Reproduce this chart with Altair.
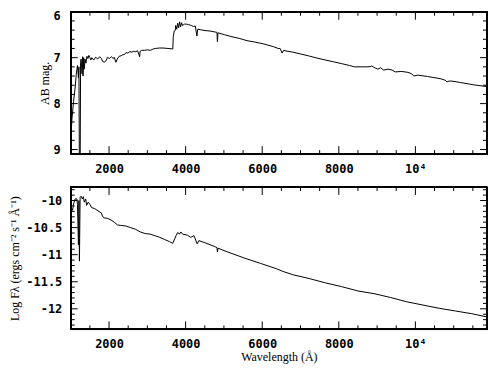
import altair as alt
import pandas as pd

# ---- data ----
wl_ab = [1000, 1003, 1033, 1074, 1117, 1143, 1176, 1201, 1214, 1227, 1245, 1257, 1270, 1296,
         1308, 1321, 1339, 1354, 1372, 1397, 1423, 1448, 1474, 1499, 1525, 1550, 1601, 1652,
         1703, 1754, 1805, 1831, 1882, 1933, 1958, 2009, 2060, 2111, 2136, 2180, 2213, 2264,
         2315, 2366, 2391, 2442, 2493, 2544, 2595, 2646, 2697, 2748, 2799, 2812, 2850, 2926,
         3003, 3079, 3156, 3207, 3308, 3410, 3538, 3665, 3678, 3703, 3729, 3741, 3767, 3793,
         3818, 3844, 3869, 3895, 3920, 3971, 4022, 4073, 4150, 4201, 4252, 4295, 4315, 4379,
         4506, 4633, 4761, 4819, 4830, 4845, 5016, 5186, 5398, 5602, 5805, 6035, 6290, 6417,
         6468, 6519, 6557, 6595, 6799, 7003, 7207, 7436, 7640, 7862, 8073, 8277, 8405, 8608,
         8761, 8838, 8863, 8914, 8965, 9016, 9093, 9169, 9289, 9390, 9474, 9645, 9806, 9900,
         9959, 10061, 10316, 10665, 10774, 10825, 10876, 10953, 11174, 11513, 11870]
ab_mag = [9.05, 8.75, 8.32, 7.95, 7.64, 7.37, 7.17, 7.44, 7.20, 9.60, 9.60, 7.10, 7.03, 7.35,
          6.98, 7.40, 7.00, 7.25, 7.03, 7.12, 6.97, 7.02, 6.95, 7.00, 7.05, 7.00, 7.05, 6.99,
          7.03, 6.98, 7.02, 7.08, 7.10, 7.05, 6.99, 7.02, 6.98, 7.02, 6.99, 7.10, 7.03, 6.97,
          6.96, 6.93, 6.94, 6.89, 6.90, 6.87, 6.88, 6.86, 6.87, 6.85, 6.98, 6.86, 6.84, 6.84,
          6.83, 6.84, 6.81, 6.80, 6.79, 6.79, 6.80, 6.81, 6.54, 6.42, 6.41, 6.30, 6.38, 6.25,
          6.35, 6.22, 6.33, 6.24, 6.30, 6.27, 6.27, 6.28, 6.30, 6.32, 6.31, 6.53, 6.38, 6.39,
          6.41, 6.42, 6.44, 6.45, 6.65, 6.46, 6.50, 6.54, 6.58, 6.63, 6.66, 6.70, 6.76, 6.80,
          6.80, 6.90, 6.84, 6.85, 6.88, 6.92, 6.96, 7.01, 7.05, 7.09, 7.13, 7.17, 7.20, 7.20,
          7.20, 7.19, 7.18, 7.21, 7.23, 7.25, 7.22, 7.27, 7.25, 7.27, 7.31, 7.30, 7.32, 7.35,
          7.40, 7.38, 7.41, 7.46, 7.49, 7.53, 7.51, 7.51, 7.54, 7.59, 7.63]

wl_fx = [1000, 1003, 1028, 1048, 1074, 1117, 1161, 1176, 1201, 1214, 1227, 1245, 1270, 1303,
         1329, 1354, 1390, 1415, 1456, 1499, 1543, 1627, 1711, 1798, 1838, 1882, 1966, 2052,
         2136, 2220, 2307, 2435, 2562, 2689, 2817, 2944, 3072, 3199, 3326, 3454, 3581, 3665,
         3749, 3793, 3836, 3877, 3920, 4047, 4132, 4218, 4302, 4346, 4506, 4761, 4819, 4830,
         4845, 5100, 5525, 5951, 6374, 6544, 6799, 7225, 7648, 8073, 8499, 8922, 9347, 9773,
         10196, 10621, 11047, 11470, 11870]
log_fx = [-10.42, -10.30, -10.15, -10.18, -10.06, -9.97, -9.97, -10.07, -10.82, -10.00, -11.12,
          -9.94, -9.92, -9.97, -9.93, -10.03, -9.97, -10.09, -10.03, -10.07, -10.13, -10.15,
          -10.19, -10.23, -10.30, -10.32, -10.33, -10.36, -10.40, -10.45, -10.46, -10.47,
          -10.50, -10.53, -10.58, -10.61, -10.62, -10.65, -10.68, -10.72, -10.76, -10.79,
          -10.65, -10.59, -10.62, -10.58, -10.62, -10.64, -10.68, -10.65, -10.80, -10.74,
          -10.78, -10.85, -10.87, -10.95, -10.88, -10.95, -11.06, -11.16, -11.26, -11.31,
          -11.37, -11.44, -11.52, -11.59, -11.67, -11.72, -11.79, -11.87, -11.93, -11.99,
          -12.04, -12.09, -12.15]

x_major = [2000, 4000, 6000, 8000, 10000]
x_minor = [1500, 2500, 3000, 3500, 4500, 5000, 5500, 6500, 7000, 7500, 8500, 9000, 9500,
           10500, 11000, 11500]
ab_major = [6, 7, 8, 9]
ab_labels = ["6", "7", "8", "9"]
ab_minor = [6.2, 6.4, 6.6, 6.8, 7.2, 7.4, 7.6, 7.8, 8.2, 8.4, 8.6, 8.8, 9.0]
fx_major = [-10, -10.5, -11, -11.5, -12]
fx_minor = [-9.8, -9.9, -10.1, -10.2, -10.3, -10.4, -10.6, -10.7, -10.8, -10.9, -11.1, -11.2,
            -11.3, -11.4, -11.6, -11.7, -11.8, -11.9, -12.1, -12.2, -12.3]

X_DOMAIN = [1000, 11870]
AB_DOMAIN = [6, 9.1]
FX_DOMAIN = [-12.38, -9.75]

W, H = 418, 143
TICK_FONT = "DejaVu Sans Mono"
TITLE_FONT = "Liberation Serif"

xscale = alt.Scale(domain=X_DOMAIN, nice=False, zero=False)
abscale = alt.Scale(domain=AB_DOMAIN, reverse=True, nice=False, zero=False)
fxscale = alt.Scale(domain=FX_DOMAIN, nice=False, zero=False)

x_label_expr = "datum.value == 10000 ? '10\u2074' : format(datum.value, 'd')"


def x_axis(title):
    kw = dict(values=x_major, labelExpr=x_label_expr, ticks=False, domain=False, grid=False,
              labelFont=TICK_FONT, labelFontSize=12, labelFontWeight="bold",
              labelColor="black", labelPadding=9)
    if title:
        kw.update(title=title, titleFont=TITLE_FONT, titleFontSize=12,
                  titleFontWeight="normal", titleColor="black", titlePadding=2)
    else:
        kw.update(title=None)
    return alt.Axis(**kw)


top_yaxis = alt.Axis(values=ab_major, labels=False, ticks=False, domain=False, grid=False,
                     title="AB mag.", titleFont=TITLE_FONT, titleFontSize=12,
                     titleFontWeight="normal", titleColor="black", titlePadding=19)

bot_yaxis = alt.Axis(values=fx_major,
                     labelExpr="datum.value < 0 ? '-' + format(-datum.value, '~g') : format(datum.value, '~g')",
                     ticks=False, domain=False, grid=False,
                     labelFont=TICK_FONT, labelFontSize=12, labelFontWeight="bold",
                     labelColor="black", labelPadding=9,
                     title="Log F\u03bb (ergs cm\u207b\u00b2 s\u207b\u00b9 \u00c5\u207b\u00b9)",
                     titleFont=TITLE_FONT, titleFontSize=12, titleFontWeight="normal",
                     titleColor="black", titlePadding=4)


def panel(df, yfield, yscale, xaxis, yaxis, y_major, y_minor, extra=()):
    line = alt.Chart(df).mark_line(color="black", strokeWidth=1, clip=True).encode(
        x=alt.X("wl:Q", scale=xscale, axis=xaxis),
        y=alt.Y(f"{yfield}:Q", scale=yscale, axis=yaxis),
    )
    frame = alt.Chart(df).mark_rect(fillOpacity=0, stroke="black", strokeWidth=1).encode(
        x=alt.value(0), x2=alt.value(W), y=alt.value(0), y2=alt.value(H)
    )
    layers = [frame, line]
    for vals, L in [(x_major, 8), (x_minor, 4)]:
        d = pd.DataFrame({"wl": vals})
        base = alt.Chart(d).mark_rule(color="black", strokeWidth=1)
        xenc = alt.X("wl:Q", scale=xscale, axis=xaxis)
        layers.append(base.encode(x=xenc, y=alt.value(H), y2=alt.value(H - L)))
        layers.append(base.encode(x=xenc, y=alt.value(0), y2=alt.value(L)))
    for vals, L in [(y_major, 7), (y_minor, 4)]:
        d = pd.DataFrame({yfield: vals})
        base = alt.Chart(d).mark_rule(color="black", strokeWidth=1)
        yenc = alt.Y(f"{yfield}:Q", scale=yscale, axis=yaxis)
        layers.append(base.encode(y=yenc, x=alt.value(0), x2=alt.value(L)))
        layers.append(base.encode(y=yenc, x=alt.value(W), x2=alt.value(W - L)))
    layers.extend(extra)
    return alt.layer(*layers).properties(width=W, height=H)


df_ab = pd.DataFrame({"wl": wl_ab, "mag": ab_mag})
df_fx = pd.DataFrame({"wl": wl_fx, "flux": log_fx})

# y labels of the magnitude panel as text marks (first one hangs below the frame top)
df_ablab = pd.DataFrame({"mag": ab_major, "lab": ab_labels})
lab_kw = dict(font=TICK_FONT, fontSize=12, fontWeight="bold", color="black", align="right")
ab_lab_first = alt.Chart(df_ablab.iloc[:1]).mark_text(baseline="top", dy=-1, **lab_kw).encode(
    y=alt.Y("mag:Q", scale=abscale, axis=top_yaxis), x=alt.value(-10), text="lab:N")
ab_lab_rest = alt.Chart(df_ablab.iloc[1:]).mark_text(baseline="middle", **lab_kw).encode(
    y=alt.Y("mag:Q", scale=abscale, axis=top_yaxis), x=alt.value(-10), text="lab:N")

top = panel(df_ab, "mag", abscale, x_axis(None), top_yaxis, ab_major, ab_minor,
            extra=(ab_lab_first, ab_lab_rest))
bot = panel(df_fx, "flux", fxscale, x_axis("Wavelength (\u00c5)"), bot_yaxis, fx_major, fx_minor)

chart = alt.vconcat(top, bot, spacing=11).properties(padding=0)

chart.save("out.html", embed_options={"renderer": "svg", "actions": False})
